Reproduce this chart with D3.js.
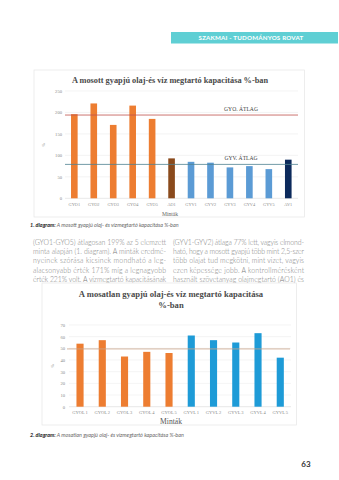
<!DOCTYPE html>
<html><head><meta charset="utf-8">
<script src="https://cdn.jsdelivr.net/npm/d3@7"></script>
<style>html,body{margin:0;padding:0;background:#fff;}svg{display:block;}</style>
</head><body>
<script>
// ---- data ----
const cats1 = ["GYO1","GYO2","GYO3","GYO4","GYO5","AO1","GYV1","GYV2","GYV3","GYV4","GYV5","AV1"];
const vals1 = [196,221,171,216,185,93,85,83,72,75,68,90];
const groups1 = ["GYO","GYO","GYO","GYO","GYO","AO","GYV","GYV","GYV","GYV","GYV","AV"];
const avgNames1 = ["GYO. ÁTLAG","GYV. ÁTLAG"];
const avgVals1 = [194,79];
const ticks1 = [0,50,100,150,200,250];

const cats2 = ["GYOL 1","GYOL 2","GYOL 3","GYOL 4","GYOL 5","GYVL 1","GYVL 2","GYVL 3","GYVL 4","GYVL 5"];
const vals2 = [54,57,43,47,46,61,57,55,63,42];
const groups2 = ["GYOL","GYOL","GYOL","GYOL","GYOL","GYVL","GYVL","GYVL","GYVL","GYVL"];
const avgVal2 = 49.5;
const ticks2 = [0,10,20,30,40,50,60,70];

const leftLines = ["(GYO1-GYO5) átlagosan 199% az 5 elemzett","minta alapján (1. diagram). A minták eredmé-","nyeinek szórása kicsinek mondható a leg-","alacsonyabb érték 171% míg a legnagyobb","érték 221% volt. A vízmegtartó kapacitásának"];
const rightLines = ["(GYV1-GYV2) átlaga 77% lett, vagyis elmond-","ható, hogy a mosott gyapjú több mint 2,5-szer","több olajat tud megkötni, mint vizet, vagyis","ezen képessége jobb. A kontrollmérésként","használt szövetanyag olajmegtartó (AO1) és"];

const W = 339, H = 480;
const svg = d3.select("body").append("svg").attr("width", W).attr("height", H);
svg.append("rect").attr("width", W).attr("height", H).attr("fill", "#fff");

const serif = "'Liberation Serif','Times New Roman',serif";
const sans = "Lato,'Open Sans',sans-serif";

// header
svg.append("rect").attr("x",171).attr("y",32).attr("width",167).attr("height",11.5).attr("fill","#5fcfd4");
svg.append("text").attr("x",251).attr("y",40.3).attr("text-anchor","middle").attr("fill","#fff")
  .attr("font-family",sans).attr("font-weight",700).attr("font-size",6.2).attr("letter-spacing",0.2)
  .text("SZAKMAI - TUDOMÁNYOS ROVAT");

// ---------- chart 1 ----------
svg.append("rect").attr("x",34).attr("y",70).attr("width",270.5).attr("height",147).attr("fill","#fff").attr("stroke","#e6e6e6").attr("stroke-width",0.7);
svg.append("text").attr("x",170).attr("y",83).attr("text-anchor","middle").attr("font-family",serif)
  .attr("font-weight",700).attr("font-size",8.3).attr("fill","#4a4a4a")
  .text("A mosott gyapjú olaj-és víz megtartó kapacitása %-ban");

const x1 = d3.scaleBand().domain(cats1).range([64.6,298]).paddingInner(0.66).paddingOuter(0.33);
const y1 = d3.scaleLinear().domain([0,250]).range([198.3,91]);
const g1 = svg.append("g");
g1.append("g").selectAll("line").data(ticks1).join("line")
  .attr("x1",65).attr("x2",298).attr("y1",d=>y1(d)).attr("y2",d=>y1(d))
  .attr("stroke",d=>d===0?"#d9d9d9":"#ececec").attr("stroke-width",0.6);
const yAxis1 = g1.append("g").attr("transform","translate(62,0)")
  .call(d3.axisLeft(y1).tickValues(ticks1).tickSize(0).tickPadding(0));
yAxis1.select(".domain").remove();
yAxis1.selectAll("text").attr("font-family",serif).attr("font-size",4.6).attr("fill","#8a8a8a");
const color1 = {GYO:"#ed7d31",AO:"#8a4a1c",GYV:"#5b9bd5",AV:"#0c2a5c"};
g1.selectAll("rect.bar").data(cats1).join("rect").attr("class","bar")
  .attr("x",d=>x1(d)).attr("width",x1.bandwidth())
  .attr("y",(d,i)=>y1(vals1[i])).attr("height",(d,i)=>y1(0)-y1(vals1[i]))
  .attr("fill",(d,i)=>color1[groups1[i]]);
const lineColors1 = ["#c0504d","#4f8292"];
g1.selectAll("line.avg").data(avgVals1).join("line").attr("class","avg")
  .attr("x1",65).attr("x2",298).attr("y1",d=>y1(d)).attr("y2",d=>y1(d))
  .attr("stroke",(d,i)=>lineColors1[i]).attr("stroke-width",0.8);
g1.selectAll("text.avgl").data(avgVals1).join("text").attr("class","avgl")
  .attr("x",241).attr("y",d=>y1(d)-4).attr("text-anchor","middle")
  .attr("font-family",serif).attr("font-size",5.6).attr("fill","#404040")
  .text((d,i)=>avgNames1[i]);
const xAxis1 = g1.append("g").attr("transform","translate(0,203)")
  .call(d3.axisBottom(x1).tickSize(0).tickPadding(0));
xAxis1.select(".domain").remove();
xAxis1.selectAll("text").attr("font-family",serif).attr("font-size",4.3).attr("fill","#8a8a8a");
svg.append("text").attr("x",170).attr("y",215.5).attr("text-anchor","middle").attr("font-family",serif)
  .attr("font-size",5.6).attr("fill","#666").text("Minták");
svg.append("text").attr("transform","translate(45,145) rotate(-90)").attr("text-anchor","middle")
  .attr("font-family",serif).attr("font-size",4.6).attr("fill","#8a8a8a").text("%");

// caption 1
const cap1 = svg.append("text").attr("x",30).attr("y",227).attr("font-family",sans).attr("font-size",5.4).attr("font-style","italic").attr("fill","#666");
cap1.append("tspan").attr("font-weight",700).attr("fill","#222").text("1. diagram:");
cap1.append("tspan").text(" A mosott gyapjú olaj- és vízmegtartó kapacitása %-ban");

// body text
function col(lines, x0, x1w){
  svg.append("g").selectAll("text").data(lines).join("text")
    .attr("x",x0).attr("y",(d,i)=>245+i*9.2)
    .attr("font-family",sans).attr("font-weight",300).attr("font-size",6.9).attr("fill","#7c7c7c")
    .attr("textLength",x1w-x0).attr("lengthAdjust","spacing").text(d=>d);
}
col(leftLines,33,166);
col(rightLines,173,304);

// ---------- chart 2 ----------
svg.append("rect").attr("x",42).attr("y",283).attr("width",254.5).attr("height",142).attr("fill","#fff").attr("stroke","#e6e6e6").attr("stroke-width",0.7);
const t2 = svg.append("text").attr("text-anchor","middle").attr("font-family",serif)
  .attr("font-weight",700).attr("font-size",8.6).attr("fill","#4a4a4a");
t2.append("tspan").attr("x",171).attr("y",297).text("A mosatlan gyapjú olaj-és víz megtartó kapacitása");
t2.append("tspan").attr("x",171).attr("y",308).text("%-ban");

const x2 = d3.scaleBand().domain(cats2).range([68.9,291.4]).paddingInner(0.68).paddingOuter(0.34);
const y2 = d3.scaleLinear().domain([0,70]).range([406.7,325]);
const g2 = svg.append("g");
g2.append("g").selectAll("line").data(ticks2).join("line")
  .attr("x1",69).attr("x2",291).attr("y1",d=>y2(d)).attr("y2",d=>y2(d))
  .attr("stroke",d=>d===0?"#d9d9d9":"#ececec").attr("stroke-width",0.6);
const yAxis2 = g2.append("g").attr("transform","translate(65,0)")
  .call(d3.axisLeft(y2).tickValues(ticks2).tickSize(0).tickPadding(0));
yAxis2.select(".domain").remove();
yAxis2.selectAll("text").attr("font-family",serif).attr("font-size",4.6).attr("fill","#8a8a8a");
const color2 = {GYOL:"#ed7d31",GYVL:"#1e9bd7"};
g2.selectAll("rect.bar").data(cats2).join("rect").attr("class","bar")
  .attr("x",d=>x2(d)).attr("width",x2.bandwidth())
  .attr("y",(d,i)=>y2(vals2[i])).attr("height",(d,i)=>y2(0)-y2(vals2[i]))
  .attr("fill",(d,i)=>color2[groups2[i]]);
g2.append("line").attr("x1",67).attr("x2",290).attr("y1",y2(avgVal2)).attr("y2",y2(avgVal2))
  .attr("stroke","#c9a48a").attr("stroke-width",0.8);
const xAxis2 = g2.append("g").attr("transform","translate(0,410.5)")
  .call(d3.axisBottom(x2).tickSize(0).tickPadding(0));
xAxis2.select(".domain").remove();
xAxis2.selectAll("text").attr("font-family",serif).attr("font-size",4.5).attr("fill","#8a8a8a");
svg.append("text").attr("x",171).attr("y",424).attr("text-anchor","middle").attr("font-family",serif)
  .attr("font-size",7.6).attr("fill","#555").text("Minták");
svg.append("text").attr("transform","translate(54,366) rotate(-90)").attr("text-anchor","middle")
  .attr("font-family",serif).attr("font-size",4.6).attr("fill","#8a8a8a").text("%");

// caption 2
const cap2 = svg.append("text").attr("x",30).attr("y",437).attr("font-family",sans).attr("font-size",5.4).attr("font-style","italic").attr("fill","#666");
cap2.append("tspan").attr("font-weight",700).attr("fill","#222").text("2. diagram:");
cap2.append("tspan").text(" A mosatlan gyapjú olaj- és vízmegtartó kapacitása %-ban");

// page number
svg.append("text").attr("x",306).attr("y",467).attr("text-anchor","middle").attr("font-family",sans)
  .attr("font-weight",700).attr("font-size",8).attr("fill","#333").text("63");
</script>
</body></html>
